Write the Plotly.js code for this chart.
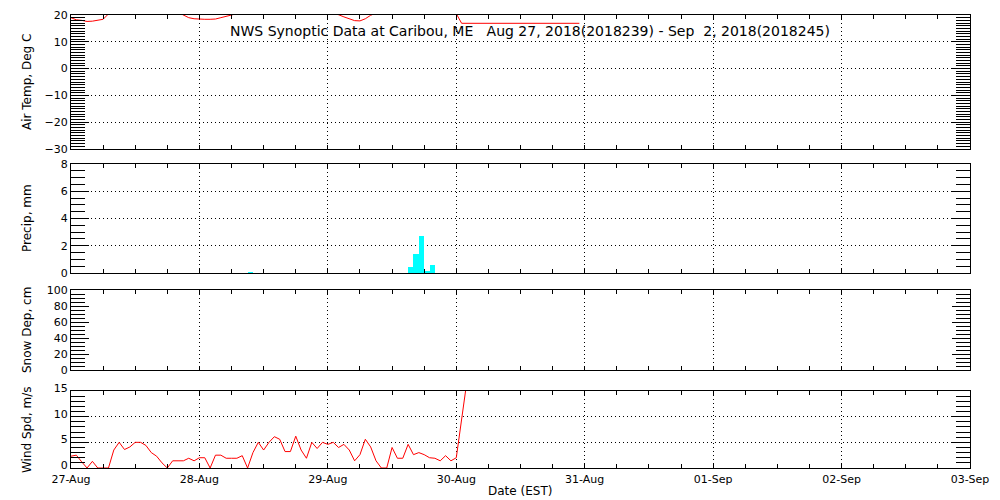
<!DOCTYPE html>
<html>
<head>
<meta charset="utf-8">
<script src="https://cdn.plot.ly/plotly-3.0.1.min.js"></script>
<style>html,body{margin:0;padding:0;background:#fff;}#chart{width:1000px;height:500px;}</style>
</head>
<body>
<div id="chart"></div>
<script>
// ---- Data (hourly, hours after 27-Aug-2018 00:00 EST) ----
const startDate = '2018-08-27';
const endDate = '2018-09-03';

// Air temperature, deg C, hours 0..73 (values above 20 are off the top of the plot)
const tempValues = [19.0, 18.2, 18.0, 17.6, 17.7, 18.0, 18.4, 20.4, 21.5, 23.0,
  24.5, 26.0, 27.0, 28.0, 28.5, 28.0, 27.0, 25.5, 23.5, 22.0,
  21.0, 20.0, 19.0, 18.6, 18.4, 18.4, 18.4, 18.5, 19.0, 19.4,
  19.9, 20.5, 22.0, 24.0, 25.5, 27.0, 28.0, 29.0, 29.5, 29.5,
  29.0, 28.0, 26.5, 25.0, 23.5, 22.5, 21.8, 21.2, 20.8, 20.5,
  20.1, 19.3, 18.5, 17.9, 17.8, 18.6, 19.9, 20.6, 21.5, 22.5,
  23.5, 24.0, 23.5, 22.5, 21.5, 21.0, 21.0, 21.2, 21.5, 21.5,
  21.3, 21.0, 20.5, 16.9];
// last reported temperature point
const tempLastHour = 95;
const tempLastValue = 16.9;

// Precipitation, mm, per hour (bar covers [hour, hour+1])
const precipHours = [33, 63, 64, 65, 66, 67];
const precipValues = [0.1, 0.42, 1.43, 2.68, 0.12, 0.62];

// Snow depth, cm (no data)
const snowHours = [];
const snowValues = [];

// Wind speed, m/s, hours 0..74
const windValues = [2.3, 2.5, 1.2, 0.0, 1.3, 0.0, 0.0, 0.0, 3.5, 5.0,
  3.6, 4.1, 5.0, 5.0, 4.4, 3.0, 2.3, 1.0, 0.0, 1.4,
  1.4, 1.4, 1.9, 1.4, 2.0, 2.0, 0.0, 2.5, 2.5, 1.9,
  1.9, 1.9, 2.4, 0.0, 3.0, 5.0, 3.5, 5.0, 6.1, 5.6,
  3.2, 3.2, 6.2, 3.5, 1.9, 5.0, 3.8, 5.0, 4.6, 5.0,
  4.0, 4.6, 3.5, 1.4, 2.6, 5.6, 4.1, 1.4, 0.0, 0.0,
  4.0, 1.9, 1.9, 4.6, 2.6, 3.0, 2.6, 2.0, 1.9, 1.4,
  2.4, 1.4, 2.0, 9.5, 17.0];

const panelTitles = ['Air Temp, Deg C', 'Precip, mm', 'Snow Dep, cm', 'Wind Spd, m/s'];
const chartTitle = 'NWS Synoptic Data at Caribou, ME\u00a0\u00a0 Aug 27, 2018(2018239) - Sep\u00a0 2, 2018(2018245)';
const xTitle = 'Date (EST)';

// ---- helpers ----
function t(h) {
  const d = new Date(Date.UTC(2018, 7, 27, 0, 0, 0) + h * 3600000);
  return d.toISOString().replace('T', ' ').slice(0, 19);
}
const tempX = tempValues.map((v, i) => t(i)).concat([t(tempLastHour)]);
const tempY = tempValues.concat([tempLastValue]);
const windX = windValues.map((v, i) => t(i));
const precipX = precipHours.map(h => t(h + 0.5));

const FONT = 'DejaVu Sans';
const traces = [
  {x: tempX, y: tempY, xaxis: 'x4', yaxis: 'y4', type: 'scatter', mode: 'lines',
   line: {color: '#ff0000', width: 1}, hoverinfo: 'skip'},
  {x: precipX, y: precipValues, xaxis: 'x3', yaxis: 'y3', type: 'bar',
   width: precipHours.map(() => 3600000), marker: {color: '#00ffff', line: {width: 0}}, hoverinfo: 'skip'},
  {x: snowHours.map(t), y: snowValues, xaxis: 'x2', yaxis: 'y2', type: 'scatter', mode: 'lines',
   line: {color: '#ff0000', width: 1}, hoverinfo: 'skip'},
  {x: windX, y: windValues, xaxis: 'x', yaxis: 'y', type: 'scatter', mode: 'lines',
   line: {color: '#ff0000', width: 1}, hoverinfo: 'skip'}
];

const DOT = '1px,3px';
function xAxis(anchor, labels) {
  return {
    anchor: anchor, type: 'date', range: [startDate, endDate],
    tick0: startDate, dtick: 86400000, tickformat: '%d-%b',
    ticks: 'inside', ticklen: 4, tickcolor: '#000', tickwidth: 1,
    showline: true, linecolor: '#000', linewidth: 1, mirror: 'allticks',
    showgrid: true, gridcolor: '#000', gridwidth: 1, griddash: DOT,
    minor: {dtick: 21600000, ticks: 'inside', ticklen: 4, tickcolor: '#000', showgrid: false},
    zeroline: false, showticklabels: labels, ticklabelstandoff: 1,
    tickfont: {family: FONT, size: 11, color: '#000'}, fixedrange: true
  };
}
function yAxis(anchor, domain, range, dtick, minorDtick, grid, shift) {
  return {
    anchor: anchor, domain: domain, range: range, tick0: 0, dtick: dtick,
    ticks: 'inside', ticklen: 18, tickcolor: '#000', tickwidth: 1,
    showline: true, linecolor: '#000', linewidth: 1, mirror: 'allticks',
    showgrid: grid, gridcolor: '#000', gridwidth: 1, griddash: DOT,
    minor: {dtick: minorDtick, ticks: 'inside', ticklen: 14, tickcolor: '#000', showgrid: false},
    ticklabelshift: shift,
    zeroline: false, tickfont: {family: FONT, size: 11, color: '#000'}, fixedrange: true
  };
}

// pixel helpers for annotations
const L = 71, R = 970, T = 15, B = 468;
const px = x => (x - L) / (R - L);
const py = y => (B - y) / (B - T);

const panelCenters = [82, 218, 330, 430];
const annotations = panelTitles.map((s, i) => ({
  text: s, xref: 'paper', yref: 'paper', x: px(27), y: py(panelCenters[i]),
  xanchor: 'center', yanchor: 'middle', textangle: -90, showarrow: false,
  font: {family: FONT, size: 12, color: '#000'}
}));
annotations.push({text: chartTitle, xref: 'paper', yref: 'paper', x: px(530), y: py(31),
  xanchor: 'center', yanchor: 'middle', showarrow: false,
  font: {family: FONT, size: 14, color: '#000'}});
annotations.push({text: xTitle, xref: 'paper', yref: 'paper', x: px(520), y: py(491),
  xanchor: 'center', yanchor: 'middle', showarrow: false,
  font: {family: FONT, size: 12, color: '#000'}});

const layout = {
  width: 1000, height: 500,
  margin: {l: L, r: 1000 - R, t: T, b: 500 - B},
  paper_bgcolor: '#fff', plot_bgcolor: '#fff',
  showlegend: false, bargap: 0,
  xaxis: xAxis('y', true),
  xaxis2: xAxis('y2', false),
  xaxis3: xAxis('y3', false),
  xaxis4: xAxis('y4', false),
  yaxis: yAxis('x', [0, py(391)], [0, 15], 5, 1, true, -3),
  yaxis2: yAxis('x2', [py(370), py(290)], [0, 100], 20, 5, false, 0),
  yaxis3: yAxis('x3', [py(273), py(164)], [0, 8], 2, 0.5, true, 0),
  yaxis4: yAxis('x4', [py(149), 1], [-30, 20], 10, 1, true, 0),
  annotations: annotations
};

Plotly.newPlot('chart', traces, layout, {staticPlot: true, displayModeBar: false});
</script>
</body>
</html>
